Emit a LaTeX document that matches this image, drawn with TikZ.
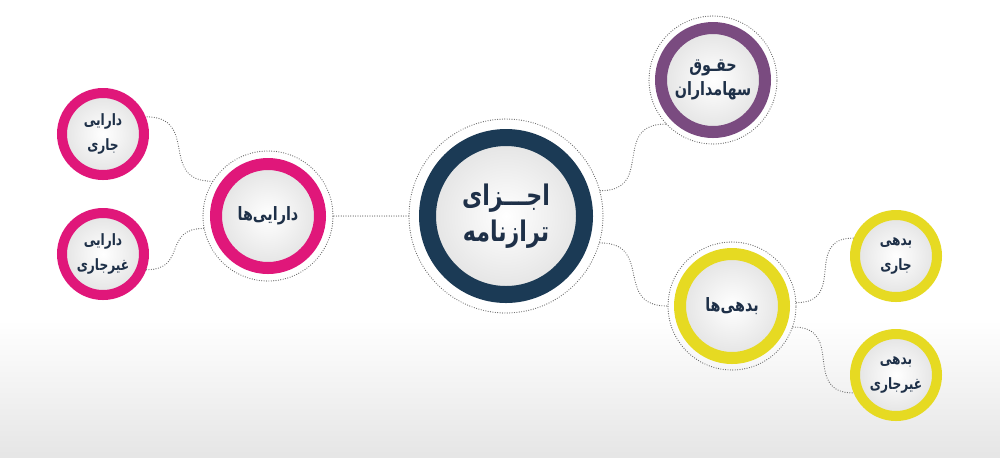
\documentclass[tikz,border=0pt]{standalone}
\usepackage{fontspec}
\usetikzlibrary{positioning,calc}
\TeXXeTstate=1
\newfontfamily\fafont[Script=Arabic, FakeStretch=0.78]{DejaVu Sans}
\newcommand{\fa}[1]{\beginR#1\endR}
\definecolor{navy}{HTML}{1B3A55}
\definecolor{ink}{HTML}{1E3048}
\definecolor{rose}{HTML}{E0177A}
\definecolor{plum}{HTML}{7A4B80}
\definecolor{lemon}{HTML}{E6DA22}

\begin{document}
\begin{tikzpicture}[x=0.5pt, y=-0.5pt, text=ink,
    font=\fafont\bfseries\fontsize{9.2}{12}\selectfont,
    disk/.style={circle, draw=#1, inner color=white, outer color=black!11,
      align=center, inner sep=0pt},
    big/.style={disk=#1, line width=6pt, minimum size=52pt},
    small/.style={disk=#1, line width=5pt, minimum size=41pt,
      font=\fafont\bfseries\fontsize{7.8}{12.5}\selectfont},
    halo/.style={circle, draw=black!60, line width=0.6pt, line cap=round,
      dash pattern=on 0pt off 1.2pt, minimum size=#1, inner sep=0pt},
    link/.style={draw=black!60, line width=0.6pt, line cap=round,
      dash pattern=on 0pt off 1.2pt, looseness=1.5}]
  % background
  \useasboundingbox (0,0) rectangle (1000,457);
  \fill[white] (0,0) rectangle (1000,457);
  \shade[top color=white, bottom color=black!10] (0,320) rectangle (1000,457);
  % centre
  \node[halo=97pt] (core-o) at (506,216) {};%
  \node[disk=navy, line width=8.5pt, minimum size=78.5pt,
    font=\fafont\bfseries\fontsize{14.2}{18}\selectfont] (core) at (506,216)
    {\fa{اجـــزای}\\\fa{ترازنامه}};%
  % assets
  \node[halo=65pt] (asset-o) at (268,216) {};%
  \node[big=rose] (asset) at (268,216) {\fa{دارایی^^^^200cها}};%
  \node[small=rose] (curasset) at (103,134) {\fa{دارایی}\\\fa{جاری}};%
  \node[small=rose] (fixasset) at (103,254) {\fa{دارایی}\\\fa{غیرجاری}};%
  % equity
  \node[halo=64pt] (equity-o) at (713,80) {};%
  \node[big=plum] (equity) at (713,80) {\fa{حقـوق}\\\fa{سهامداران}};%
  % liabilities
  \node[halo=64pt] (debt-o) at (732,306) {};%
  \node[big=lemon] (debt) at (732,306) {\fa{بدهی^^^^200cها}};%
  \node[small=lemon] (curdebt) at (896,256) {\fa{بدهی}\\\fa{جاری}};%
  \node[small=lemon] (longdebt) at (896,375) {\fa{بدهی}\\\fa{غیرجاری}};%
  % links
  \draw[link] (core-o.west) -- (asset-o.east);%
  \draw[link] (asset-o.148) to[out=180, in=0] (curasset.22);%
  \draw[link] (asset-o.191) to[out=180, in=0] (fixasset.-20);%
  \draw[link] (core-o.15) to[out=0, in=180] (equity-o.-137);%
  \draw[link] (core-o.-16) to[out=0, in=180] (debt-o.180);%
  \draw[link] (debt-o.3) to[out=0, in=180] (curdebt.157);%
  \draw[link] (debt-o.-19) to[out=0, in=180] (longdebt.203);%
\end{tikzpicture}
\end{document}
